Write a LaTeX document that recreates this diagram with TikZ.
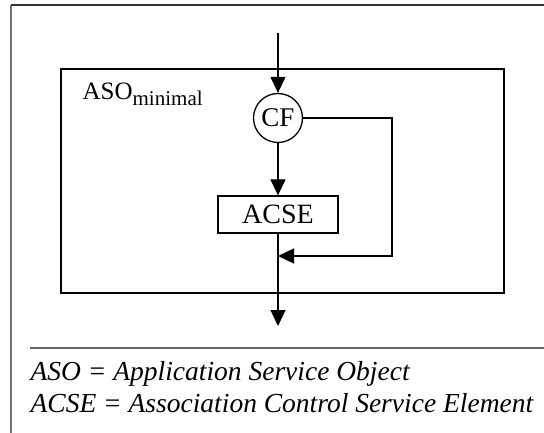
\documentclass[tikz,border=0pt]{standalone}
\usepackage{fontspec}
\setmainfont{Liberation Serif}
\usetikzlibrary{arrows.meta}
\newcommand{\subtxt}[1]{\raisebox{-6pt}{\fontsize{21}{21}\selectfont #1}}
\begin{document}
\begin{tikzpicture}[x=1pt,y=-1pt,line width=1.3pt,
  font=\fontsize{25}{28}\selectfont,
  arr/.style={-{Triangle[length=16pt,width=15pt]}},
  txt/.style={anchor=base west,inner sep=0pt},
  legend/.style={txt,font=\fontsize{27.5}{30}\selectfont\itshape},
  asobox/.style={draw,line width=1.8pt,inner sep=0pt,minimum width=443pt,minimum height=224pt},
  acsebox/.style={draw,inner sep=0pt,minimum width=120pt,minimum height=37pt,font=\fontsize{28}{30}\selectfont},
  cfnode/.style={draw,circle,inner sep=0pt,minimum size=49pt,font=\fontsize{27}{30}\selectfont}]
\useasboundingbox (0,0) rectangle (544,433);
% frame
\draw[black!55,line width=1.6pt] (11,433) -- (11,5);
\draw[black!80,line width=1.6pt] (11,5) -- (544,5);
\draw[black!60,line width=1.2pt] (30,348) -- (544,348);
% boxes
\node[asobox] (aso) at (282.5,181) {};
\node[txt] (asolabel) at (82,100) {ASO\subtxt{minimal}};
\node[cfnode] (cf) at (278,118) {CF};
\node[acsebox] (acse) at (278,214.5) {ACSE};
\coordinate (in) at (278,33);
\coordinate (join) at (278,256);
\coordinate (out) at (278,326);
% connectors
\draw[arr] (in) -- (cf);
\draw[arr] (cf) -- (acse);
\draw[arr] (cf.east) -- (392,118) |- (join);
\draw[arr] (acse) -- (out);
% legend
\node[legend] (leg1) at (30,380) {ASO = Application Service Object};
\node[legend] (leg2) at (30,412) {ACSE = Association Control Service Element};
\end{tikzpicture}
\end{document}
